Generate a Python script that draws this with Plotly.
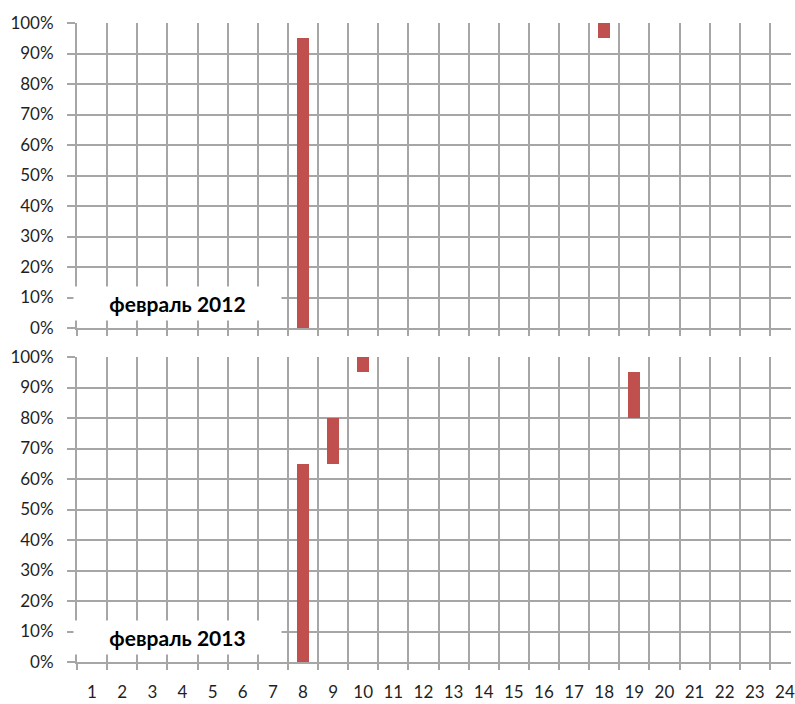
import plotly.graph_objects as go

# Hours of the day shown along the x axis
hours = list(range(1, 25))
hour_labels = [str(h) for h in hours]

# Percentage tick labels on the y axis
pct_ticks = [i / 10 for i in range(11)]
pct_labels = [f"{i * 10}%" for i in range(11)]

# February 2012: floating segments (hour, from, to)
feb2012_hours = [8, 18]
feb2012_from = [0.00, 0.95]
feb2012_to = [0.95, 1.00]

# February 2013: floating segments (hour, from, to)
feb2013_hours = [8, 9, 10, 19]
feb2013_from = [0.00, 0.65, 0.95, 0.80]
feb2013_to = [0.65, 0.80, 1.00, 0.95]

panel_titles = ["февраль 2012", "февраль 2013"]

BAR = "#c0504d"
GRID = "#a6a6a6"
TXT = "#1f1f1f"
FONT = "Lato"

fig = go.Figure()

for i, (hrs, lo, hi) in enumerate([
    (feb2012_hours, feb2012_from, feb2012_to),
    (feb2013_hours, feb2013_from, feb2013_to),
]):
    sfx = "" if i == 0 else "2"
    fig.add_trace(go.Bar(
        x=hrs,
        y=[b - a for a, b in zip(lo, hi)],
        base=lo,
        width=0.4,
        marker=dict(color=BAR, line=dict(width=0)),
        xaxis="x" + sfx,
        yaxis="y" + sfx,
        showlegend=False,
        hoverinfo="skip",
    ))

boundaries = [h - 0.5 for h in hours] + [24.5]

def x_axis(show_labels, anchor):
    return dict(
        anchor=anchor,
        range=[0.5, 24.2],
        tickmode="array",
        tickvals=hours,
        ticktext=hour_labels,
        showticklabels=show_labels,
        ticklabeloverflow="allow",
        ticks="",
        showgrid=False,
        zeroline=False,
        showline=True,
        linecolor=GRID,
        linewidth=2,
        tickfont=dict(family=FONT, size=17, color=TXT),
        ticklabelstandoff=14,
        minor=dict(
            tickvals=boundaries,
            ticks="outside",
            ticklen=6,
            tickwidth=2,
            tickcolor=GRID,
            showgrid=True,
            gridcolor=GRID,
            gridwidth=2,
        ),
    )

def y_axis(domain, anchor):
    return dict(
        anchor=anchor,
        domain=domain,
        range=[0, 1],
        tickmode="array",
        tickvals=pct_ticks,
        ticktext=pct_labels,
        ticks="outside",
        ticklen=8,
        tickwidth=2,
        tickcolor=GRID,
        showgrid=True,
        gridcolor=GRID,
        gridwidth=2,
        zeroline=False,
        showline=True,
        linecolor=GRID,
        linewidth=2,
        tickfont=dict(family=FONT, size=17, color=TXT),
        ticklabelstandoff=10,
    )

fig.update_layout(
    width=795,
    height=704,
    margin=dict(l=77, r=0, t=23, b=42),
    paper_bgcolor="white",
    plot_bgcolor="white",
    bargap=0,
    xaxis=x_axis(False, "y"),
    yaxis=y_axis([0.5227, 1.0], "x"),
    xaxis2=x_axis(True, "y2"),
    yaxis2=y_axis([0.0, 0.4773], "x2"),
)

# Panel captions on white boxes near the lower-left corner
for i, title in enumerate(panel_titles):
    sfx = "" if i == 0 else "2"
    fig.add_annotation(
        text=title,
        xref="x" + sfx + " domain",
        yref="y" + sfx + " domain",
        x=0.1414,
        y=0.0803,
        xanchor="center",
        yanchor="middle",
        showarrow=False,
        width=207,
        height=33,
        bgcolor="white",
        borderpad=0,
        font=dict(family=FONT, size=21, color="black", weight="bold"),
    )

fig.write_html("out.html")
